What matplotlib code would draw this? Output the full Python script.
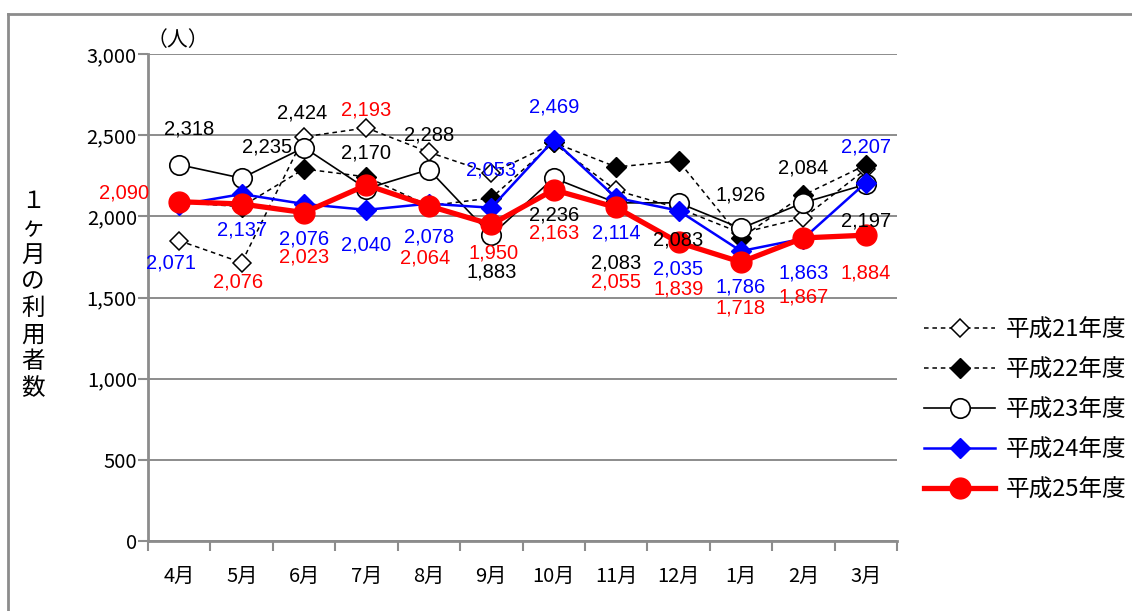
import matplotlib
matplotlib.use("Agg")
import matplotlib.pyplot as plt
from matplotlib.lines import Line2D

plt.rcParams['font.family'] = ['Noto Sans CJK JP', 'DejaVu Sans']

months = ['4月', '5月', '6月', '7月', '8月', '9月', '10月', '11月', '12月', '1月', '2月', '3月']
h21 = [1850, 1715, 2490, 2545, 2395, 2265, 2450, 2160, 2050, 1897, 1990, 2290]
h22 = [2085, 2060, 2292, 2243, 2065, 2113, 2455, 2304, 2341, 1867, 2131, 2316]
h23 = [2318, 2235, 2424, 2170, 2288, 1883, 2236, 2083, 2083, 1926, 2084, 2197]
h24 = [2071, 2137, 2076, 2040, 2078, 2053, 2469, 2114, 2035, 1786, 1863, 2207]
h25 = [2090, 2076, 2023, 2193, 2064, 1950, 2163, 2055, 1839, 1718, 1867, 1884]
names = ['平成21年度', '平成22年度', '平成23年度', '平成24年度', '平成25年度']

# label offsets (pixels, image direction: +y = down)
off23 = [(10, -36), (25, -31), (-2, -35), (0, -36), (0, -35), (0, 37),
         (0, 37), (0, 60), (0, 37), (0, -33), (0, -35), (0, 37)]
off24 = [(-8, 58), (0, 36), (0, 35), (0, 35), (0, 33), (0, -38),
         (0, -33), (0, 35), (0, 58), (0, 36), (0, 34), (0, -36)]
off25 = [(-55, -9), (-4, 78), (0, 44), (0, -75), (-4, 52), (2, 29),
         (0, 43), (0, 75), (0, 47), (0, 46), (0, 59), (0, 38)]

fig = plt.figure(figsize=(11.32, 6.11), dpi=100)
ax = fig.add_axes([148/1132, 1-541/611, (897-148)/1132, (541-54)/611])
x = list(range(len(months)))

dash = (0, (3, 2.5))
ax.plot(x, h21, color='black', lw=1.1, ls=dash, marker='D', ms=9,
        mfc='white', mec='black', mew=1.1, label=names[0], zorder=3)
ax.plot(x, h22, color='black', lw=1.1, ls=dash, marker='D', ms=10,
        mfc='black', mec='black', label=names[1], zorder=4)
ax.plot(x, h23, color='black', lw=1.2, marker='o', ms=14,
        mfc='white', mec='black', mew=1.2, label=names[2], zorder=5)
ax.plot(x, h24, color='blue', lw=1.8, marker='D', ms=10,
        mfc='blue', mec='blue', label=names[3], zorder=6)
ax.plot(x, h25, color='red', lw=3.8, marker='o', ms=15,
        mfc='red', mec='red', label=names[4], zorder=7)

for vals, offs, col in [(h23, off23, 'black'), (h24, off24, 'blue'), (h25, off25, 'red')]:
    for i, v in enumerate(vals):
        dx, dy = offs[i]
        ax.annotate(f'{v:,}', (i, v), xytext=(dx, -dy), textcoords='offset pixels',
                    ha='center', va='center', color=col, fontsize=14.5,
                    family=['Liberation Sans', 'DejaVu Sans'], zorder=8)

ax.set_xlim(-0.5, 11.5)
ax.set_ylim(0, 3000)
ax.set_yticks(range(0, 3001, 500))
ax.set_yticklabels([f'{v:,}' for v in range(0, 3001, 500)], fontsize=14.5)
ax.set_xticks(x)
ax.set_xticklabels(months, fontsize=14.5)
ax.set_xticks([i - 0.5 for i in range(13)], minor=True)
ax.tick_params(axis='x', which='major', length=0, pad=18)
ax.tick_params(axis='x', which='minor', length=7, width=1.5, color='#8c8c8c')
ax.tick_params(axis='y', length=7, width=1.5, color='#8c8c8c', pad=1)
ax.grid(axis='y', color='#8c8c8c', lw=1.4)
ax.set_axisbelow(True)
for s in ['top', 'right']:
    ax.spines[s].set_visible(False)
for s in ['left', 'bottom']:
    ax.spines[s].set_color('#8c8c8c')
    ax.spines[s].set_linewidth(2)

fig.text(178/1132, 1-40/611, '（人）', ha='center', va='center', fontsize=15)
fig.text(33/1132, 1-295/611, '\n'.join('１ヶ月の利用者数'), ha='center', va='center',
         fontsize=17, linespacing=1.2)

ax.legend(loc='center left', bbox_to_anchor=(903/1132, 1-410/611),
          bbox_transform=fig.transFigure, frameon=False, fontsize=17,
          handlelength=3.0, labelspacing=0.72, handletextpad=0.45)

fig.add_artist(Line2D([8/1132, 8/1132], [0, 1-14/611], color='#8c8c8c', lw=2))
fig.add_artist(Line2D([8/1132, 1], [1-14/611, 1-14/611], color='#8c8c8c', lw=2))

fig.savefig('out.png', dpi=100)
